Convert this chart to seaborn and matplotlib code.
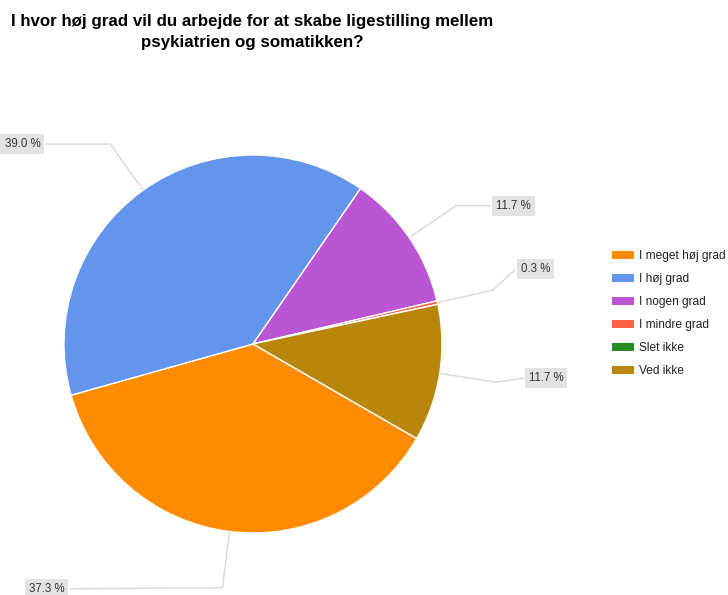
import numpy as np
import matplotlib
matplotlib.use("Agg")
import matplotlib.pyplot as plt
from matplotlib.patches import Patch
import seaborn as sns

# Data
categories = ["I meget høj grad", "I høj grad", "I nogen grad", "I mindre grad", "Slet ikke", "Ved ikke"]
shares = [37.3, 39.0, 11.7, 0.3, 0.0, 11.7]
slice_colors = ["#FF8C00", "#6495ED", "#BA55D3", "#FF6347", "#228B22", "#B8860B"]
title = "I hvor høj grad vil du arbejde for at skabe ligestilling mellem\npsykiatrien og somatikken?"

sns.set_style("white")
plt.rcParams["font.family"] = ["Liberation Sans", "DejaVu Sans"]
palette = sns.color_palette(slice_colors)

W, H = 728, 595
R = 189.0            # pie radius in px
cx, cy = 253, 344    # pie centre in px (from top-left)

fig = plt.figure(figsize=(W / 100, H / 100), dpi=100)
ax = fig.add_axes([0, 0, 1, 1])

wedges, _ = ax.pie(shares, colors=palette, startangle=-30, counterclock=False,
                   radius=1.0, wedgeprops=dict(edgecolor="white", linewidth=1))
ax.set_xlim(-cx / R, (W - cx) / R)
ax.set_ylim(-(H - cy) / R, cy / R)
ax.set_aspect("equal", adjustable="datalim")
ax.axis("off")

# label placement: pixel offsets of the label box edge from the elbow point
label_offsets = {0: (-153, 1), 1: (-65, 0), 2: (35, 0), 3: (23, -21), 5: (28, -4)}
line_color = "#d9d9d9"
for i, w in enumerate(wedges):
    if shares[i] <= 0:
        continue
    mid = np.deg2rad((w.theta1 + w.theta2) / 2)
    ex, ey = np.cos(mid), np.sin(mid)
    bx, by = 1.3 * ex, 1.3 * ey
    dx, dy = label_offsets[i]
    lx, ly = bx + dx / R, by - dy / R
    ax.plot([ex, bx, lx], [ey, by, ly], color=line_color, lw=1, zorder=1,
            solid_capstyle="butt")
    side = 1 if dx > 0 else -1
    ax.text(lx + side * 5 / R, ly, f"{shares[i]:.1f} %", fontsize=8.3,
            color="#333333", ha="left" if side > 0 else "right", va="center",
            bbox=dict(boxstyle="square,pad=0.35", facecolor="#e3e3e3", edgecolor="none"))

fig.text(252 / W, 1 - 14 / H, title, ha="center", va="top", fontsize=12.2,
         fontweight="bold", color="#000000", linespacing=1.5)

handles = [Patch(facecolor=c, edgecolor="none") for c in palette]
fig.legend(handles, categories, loc="upper left", bbox_to_anchor=(612 / W, 1 - 250 / H),
           frameon=False, fontsize=8.6, handlelength=1.8, handleheight=0.66,
           handletextpad=0.5, labelspacing=0.92, borderpad=0, borderaxespad=0,
           labelcolor="#222222")

fig.savefig("out.png", dpi=100, facecolor="white")
